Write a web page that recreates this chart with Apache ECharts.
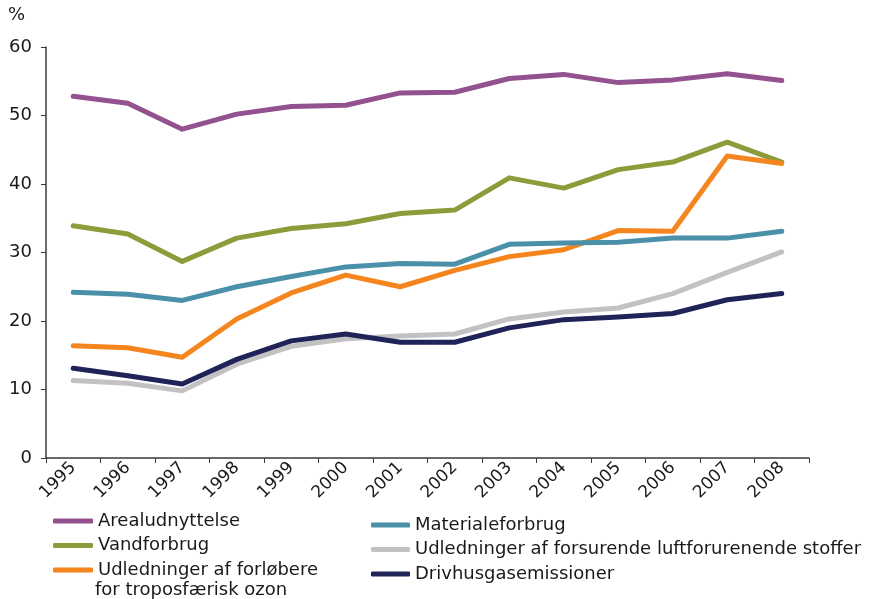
<!DOCTYPE html>
<html>
<head>
<meta charset="utf-8">
<script src="https://cdn.jsdelivr.net/npm/echarts@6/dist/echarts.min.js"></script>
<style>
  html, body { margin: 0; padding: 0; background: #fff; }
  #chart { width: 875px; height: 599px; }
</style>
</head>
<body>
<div id="chart"></div>
<script>
var years = ['1995', '1996', '1997', '1998', '1999', '2000', '2001', '2002', '2003', '2004', '2005', '2006', '2007', '2008']

var areal = [52.8, 51.8, 48.0, 50.2, 51.3, 51.5, 53.3, 53.4, 55.4, 56.0, 54.8, 55.2, 56.1, 55.1]
var vand = [33.9, 32.7, 28.7, 32.1, 33.5, 34.2, 35.7, 36.2, 40.9, 39.4, 42.1, 43.2, 46.1, 43.2]
var ozon = [16.4, 16.1, 14.7, 20.3, 24.1, 26.7, 25.0, 27.4, 29.4, 30.4, 33.2, 33.1, 44.1, 43.0]
var materiale = [24.2, 23.9, 23.0, 25.0, 26.5, 27.9, 28.4, 28.3, 31.2, 31.4, 31.5, 32.1, 32.1, 33.1]
var forsurende = [11.3, 10.9, 9.8, 13.7, 16.3, 17.4, 17.8, 18.1, 20.3, 21.3, 21.9, 24.0, 27.1, 30.1]
var drivhus = [13.1, 12.0, 10.8, 14.4, 17.1, 18.1, 16.9, 16.9, 19.0, 20.2, 20.6, 21.1, 23.1, 24.0]

var yTicks = [0, 10, 20, 30, 40, 50, 60]

var font = 'DejaVu Sans, Verdana, sans-serif'
var axisColor = '#3a3a3a'
var textColor = '#1a1a1a'

function line (name, data, color) {
  return {
    name: name,
    type: 'line',
    data: data,
    symbol: 'none',
    lineStyle: { color: color, width: 5, cap: 'round', join: 'round' },
    itemStyle: { color: color },
    animation: false
  }
}

var chart = echarts.init(document.getElementById('chart'))
chart.setOption({
  backgroundColor: '#fff',
  textStyle: { fontFamily: font },
  grid: { left: 46, right: 66, top: 47, bottom: 141, containLabel: false },
  graphic: [
    // y-axis unit and the wrapped second line of the ozone legend entry
    { type: 'text', left: 8, top: 6, style: { text: '%', font: '18px ' + font, fill: textColor } },
    { type: 'text', left: 95, top: 581, style: { text: 'for troposfærisk ozon', font: '18px ' + font, fill: textColor } }
  ],
  legend: [
    {
      orient: 'vertical',
      left: 48,
      top: 506,
      itemWidth: 40,
      itemHeight: 5,
      itemGap: 4.5,
      icon: 'roundRect',
      textStyle: { fontSize: 18, lineHeight: 20, color: textColor, fontFamily: font },
      formatter: function (n) {
        return n.indexOf('forløbere') >= 0 ? 'Udledninger af forløbere' : n
      },
      data: ['Arealudnyttelse', 'Vandforbrug', 'Udledninger af forløbere for troposfærisk ozon']
    },
    {
      orient: 'vertical',
      left: 366,
      top: 510,
      itemWidth: 39,
      itemHeight: 5,
      itemGap: 4.5,
      icon: 'roundRect',
      textStyle: { fontSize: 18, lineHeight: 20, color: textColor, fontFamily: font },
      data: ['Materialeforbrug', 'Udledninger af forsurende luftforurenende stoffer', 'Drivhusgasemissioner']
    }
  ],
  xAxis: {
    type: 'category',
    data: years,
    boundaryGap: true,
    axisLine: { lineStyle: { color: axisColor, width: 1.5 } },
    axisTick: { show: true, length: 5, lineStyle: { color: axisColor } },
    axisLabel: { rotate: 45, fontSize: 17, color: textColor, margin: 7, fontFamily: font },
    splitLine: { show: false }
  },
  yAxis: {
    type: 'value',
    min: yTicks[0],
    max: yTicks[yTicks.length - 1],
    interval: 10,
    axisLine: { show: true, lineStyle: { color: axisColor, width: 1.5 } },
    axisTick: { show: true, length: 5, lineStyle: { color: axisColor } },
    axisLabel: { fontSize: 18, color: textColor, margin: 14, fontFamily: font },
    splitLine: { show: false }
  },
  series: [
    line('Arealudnyttelse', areal, '#94518f'),
    line('Vandforbrug', vand, '#8a9d3a'),
    line('Udledninger af forløbere for troposfærisk ozon', ozon, '#f5861f'),
    line('Materialeforbrug', materiale, '#4a90a8'),
    line('Udledninger af forsurende luftforurenende stoffer', forsurende, '#c2c2c2'),
    line('Drivhusgasemissioner', drivhus, '#1f2357')
  ]
})
</script>
</body>
</html>
